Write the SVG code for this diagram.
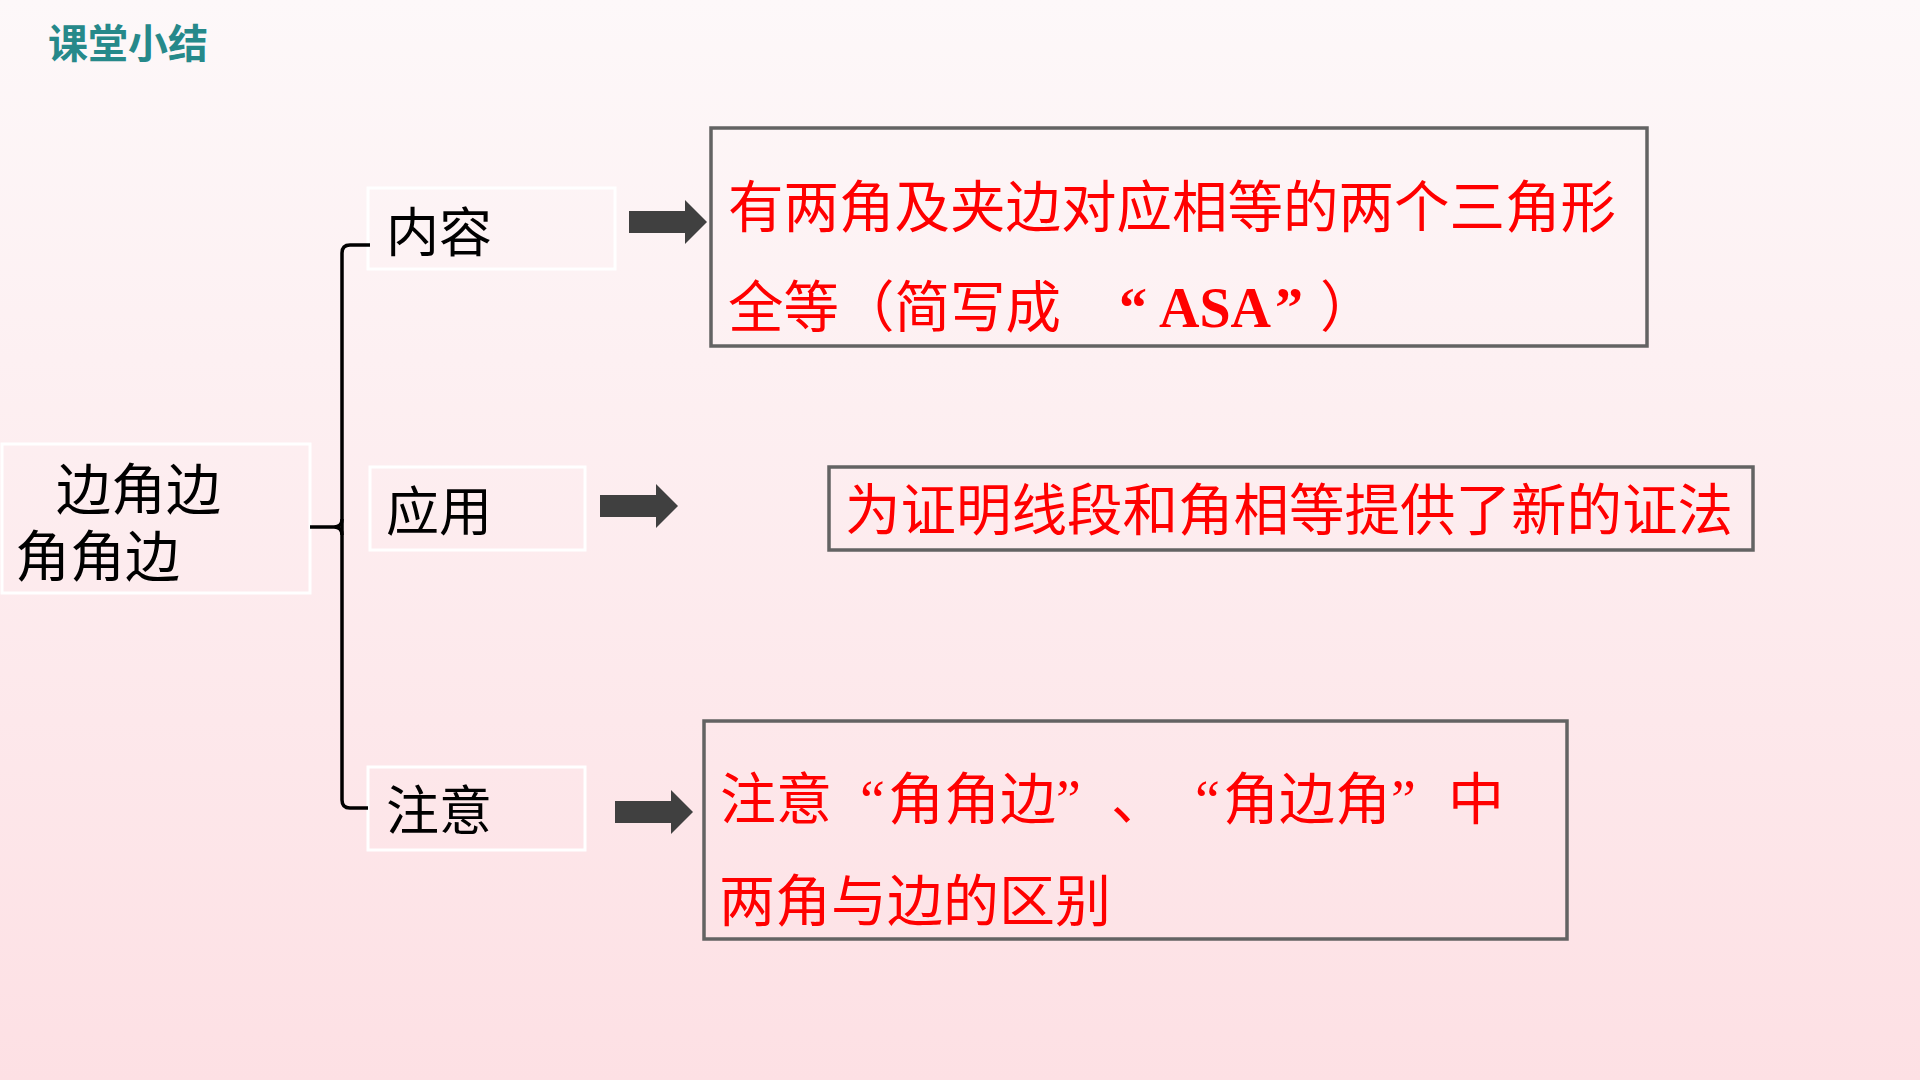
<svg xmlns="http://www.w3.org/2000/svg" width="1920" height="1080" viewBox="0 0 1920 1080">
<defs>
<linearGradient id="bg" x1="0" y1="0" x2="0" y2="1">
<stop offset="0" stop-color="#fdf8f9"/>
<stop offset="1" stop-color="#fde0e4"/>
</linearGradient>
<path id="arrow" d="M0,-11 H56 V-22 L78,0 L56,22 V11 H0 Z" fill="#404040"/>
<style>
.cjk{font-family:"Noto Sans CJK SC","Noto Sans",sans-serif}
.lbl{font-size:53px;fill:#000}
.big{font-size:55px;fill:#000}
.red{fill:#ff0000}
.q{font-family:"Liberation Serif",serif;fill:#ff0000}
.wbox{fill:none;stroke:#ffffff;stroke-width:3}
.gbox{fill:none;stroke:#636363;stroke-width:3.5}
.brace{fill:none;stroke:#000;stroke-width:3.5}
</style>
</defs>
<rect width="1920" height="1080" fill="url(#bg)"/>
<text id="title" x="48" y="58" class="cjk" font-size="40" font-weight="bold" fill="#26898a">课堂小结</text>

<g id="node-root">
<rect class="wbox" x="2" y="444" width="308" height="149"/>
<text class="cjk big"><tspan x="56" y="509">边角边</tspan><tspan x="15" y="576">角角边</tspan></text>
</g>

<g id="node-content">
<rect class="wbox" x="368" y="188" width="247" height="81"/>
<text class="cjk lbl" x="386" y="252">内容</text>
</g>
<g id="node-use">
<rect class="wbox" x="370" y="467" width="215" height="83"/>
<text class="cjk lbl" x="386" y="531">应用</text>
</g>
<g id="node-note">
<rect class="wbox" x="368" y="767" width="217" height="83"/>
<text class="cjk lbl" x="386" y="830">注意</text>
</g>

<g id="node-content-detail">
<rect class="gbox" x="711" y="128" width="936" height="218"/>
<text class="cjk red" font-size="55.5" x="728" y="227">有两角及夹边对应相等的两个三角形</text>
<text font-size="55.5" y="327"><tspan class="cjk red" x="728">全等（简写成</tspan><tspan class="q" font-weight="bold" font-size="56" x="1119">“</tspan><tspan class="q" font-weight="bold" font-size="56" x="1159">ASA</tspan><tspan class="q" font-weight="bold" font-size="56" x="1275">”</tspan><tspan class="cjk red" x="1320">）</tspan></text>
</g>

<g id="node-use-detail">
<rect class="gbox" x="829" y="467" width="924" height="83"/>
<text class="cjk red" font-size="55.5" x="845" y="530">为证明线段和角相等提供了新的证法</text>
</g>

<g id="node-note-detail">
<rect class="gbox" x="704" y="721" width="863" height="218"/>
<text font-size="56" y="819"><tspan class="cjk red" x="720">注意</tspan><tspan class="q" x="860">“</tspan><tspan class="cjk red" x="888">角角边</tspan><tspan class="q" x="1056">”</tspan><tspan class="cjk red" x="1111">、</tspan><tspan class="q" x="1195">“</tspan><tspan class="cjk red" x="1223">角边角</tspan><tspan class="q" x="1391">”</tspan><tspan class="cjk red" x="1448">中</tspan></text>
<text class="cjk red" font-size="56" x="719" y="921">两角与边的区别</text>
</g>

<g id="connectors">
<path class="brace" d="M370,245 H350 Q342,245 342,253 V800 Q342,808 350,808 H368"/>
<path class="brace" d="M310,527 H334 Q342,527 342,519 M334,527 Q342,527 342,535"/>
<use href="#arrow" x="629" y="222"/>
<use href="#arrow" x="600" y="506"/>
<use href="#arrow" x="615" y="812"/>
</g>
</svg>
